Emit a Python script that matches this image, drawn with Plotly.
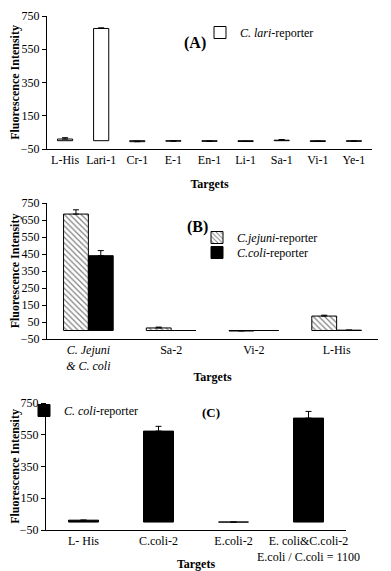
import plotly.graph_objects as go

# ---------------- data ----------------
cats_a = ["L-His", "Lari-1", "Cr-1", "E-1", "En-1", "Li-1", "Sa-1", "Vi-1", "Ye-1"]
lari_vals = [10, 675, -6, -3, -4, -5, 3, -5, -4]
lari_err = [8, 4, 3, 2, 2, 2, 4, 3, 3]

cats_b = ["<i>C. Jejuni</i><br><i>& C. coli</i>", "Sa-2", "Vi-2", "L-His"]
jejuni_vals = [685, 15, -3, 85]
jejuni_err = [25, 5, 3, 5]
coli_b_vals = [440, 0, 0, 2]
coli_b_err = [30, 0, 0, 0]

cats_c = ["L- His", "C.coli-2", "E.coli-2", "E. coli&C.coli-2<br>E.coli / C.coli = 1100"]
coli_c_vals = [12, 573, 0, 655]
coli_c_err = [0, 30, 0, 42]

ticks_200 = [-50, 150, 350, 550, 750]
ticks_100 = [-50, 50, 150, 250, 350, 450, 550, 650, 750]

# ---------------- layout helpers ----------------
# page body has an 8px default margin; figure is sized so the page is 391x571
OFF = 8
W, H = 391 - OFF, 571 - OFF
FONT = "Liberation Serif, Times New Roman, serif"


def py(px):
    return min(1.0, max(0.0, 1 - (px - OFF) / H))


def pxx(px):
    return min(1.0, max(0.0, (px - OFF) / W))


dom_a = [py(149), py(16)]
dom_b = [py(339), py(203)]
dom_c = [py(530), py(403)]
xd_a = [pxx(47), pxx(372)]
xd_b = [pxx(47), pxx(378)]
xd_c = [pxx(46), pxx(346)]

fig = go.Figure()

eb = dict(type="data", symmetric=False, color="black", thickness=1, width=3)

fig.add_trace(go.Bar(
    x=list(range(len(cats_a))), y=lari_vals, width=0.42, offset=-0.21,
    marker=dict(color="white", line=dict(color="black", width=1)),
    error_y=dict(array=lari_err, arrayminus=[0] * len(lari_err), **eb),
    name="<i>C. lari</i>-reporter", xaxis="x", yaxis="y", legend="legend"))

fig.add_trace(go.Bar(
    x=list(range(len(cats_b))), y=jejuni_vals, width=0.3, offset=-0.3,
    marker=dict(color="white", line=dict(color="black", width=1),
                pattern=dict(shape="\\", fgcolor="black", bgcolor="white", size=4, solidity=0.3)),
    error_y=dict(array=jejuni_err, arrayminus=[0] * len(jejuni_err), **eb),
    name="<i>C.jejuni</i>-reporter", xaxis="x2", yaxis="y2", legend="legend2"))

fig.add_trace(go.Bar(
    x=list(range(len(cats_b))), y=coli_b_vals, width=0.3, offset=0,
    marker=dict(color="black", line=dict(color="black", width=1)),
    error_y=dict(array=coli_b_err, arrayminus=[0] * len(coli_b_err), **eb),
    name="<i>C.coli</i>-reporter", xaxis="x2", yaxis="y2", legend="legend4"))

fig.add_trace(go.Bar(
    x=list(range(len(cats_c))), y=coli_c_vals, width=0.4, offset=-0.2,
    marker=dict(color="black", line=dict(color="black", width=1)),
    error_y=dict(array=coli_c_err, arrayminus=[0] * len(coli_c_err), **eb),
    name="<i>C. coli</i>-reporter", xaxis="x3", yaxis="y3", legend="legend3"))

tickfont = dict(family=FONT, size=12, color="black")
titlefont = dict(family=FONT, size=12, color="black")


def yax(dom, tickvals, anchor):
    return dict(domain=dom, range=[-50, 750], tickvals=tickvals, showline=True,
                linecolor="black", linewidth=1, ticks="outside", ticklen=4,
                tickcolor="black", showgrid=False, zeroline=False, tickfont=tickfont,
                anchor=anchor, automargin=False, ticklabeloverflow="allow",
                title=dict(text="<b>Fluorescence Intensity</b>", font=titlefont, standoff=0))


def xax(dom, cats, anchor, standoff):
    n = len(cats)
    return dict(domain=dom, range=[-0.5, n - 0.5], tickvals=list(range(n)), ticktext=cats,
                showline=True, linecolor="black", linewidth=1, ticks="", showgrid=False,
                zeroline=False, tickfont=tickfont, anchor=anchor, automargin=False,
                tickangle=0,
                title=dict(text="<b>Targets</b>", font=titlefont, standoff=standoff))


def zero_axis(dom_y, n, overlay):
    pos = dom_y[0] + (50 / 800) * (dom_y[1] - dom_y[0])
    return dict(overlaying=overlay, anchor="free", position=pos, type="linear",
                range=[-0.5, n - 0.5], tickvals=[i + 0.5 for i in range(n)],
                showticklabels=False, ticks="outside", ticklen=4, tickcolor="black",
                showline=True, linecolor="black", linewidth=1, showgrid=False,
                zeroline=False, automargin=False)


def leg(xpx, ypx):
    return dict(x=pxx(xpx), y=py(ypx), xanchor="left", yanchor="top",
                bgcolor="rgba(0,0,0,0)", font=dict(family=FONT, size=12, color="black"))


def label(text, xpx, ypx, size):
    return dict(text=text, x=pxx(xpx), y=py(ypx), xref="paper", yref="paper",
                xanchor="center", yanchor="middle", showarrow=False,
                font=dict(family=FONT, size=size, color="black"))


fig.update_layout(
    width=W, height=H, margin=dict(l=0, r=0, t=0, b=0, autoexpand=False),
    paper_bgcolor="white", plot_bgcolor="white",
    font=dict(family=FONT, size=12, color="black"),
    xaxis=xax(xd_a, cats_a, "y", 13), yaxis=yax(dom_a, ticks_200, "x"),
    xaxis2=xax(xd_b, cats_b, "y2", 0), yaxis2=yax(dom_b, ticks_100, "x2"),
    xaxis3=xax(xd_c, cats_c, "y3", 11), yaxis3=yax(dom_c, ticks_200, "x3"),
    xaxis4=zero_axis(dom_a, len(cats_a), "x"),
    xaxis5=zero_axis(dom_b, len(cats_b), "x2"),
    xaxis6=zero_axis(dom_c, len(cats_c), "x3"),
    showlegend=True,
    legend=leg(200, 18),
    legend2=leg(197, 223),
    legend4=leg(197, 238),
    legend3=leg(24, 396),
    annotations=[
        label("<b>(A)</b>", 195, 43, 16),
        label("<b>(B)</b>", 197, 227, 16),
        label("<b>(C)</b>", 211, 413, 13),
    ],
)

fig.write_html("out.html")
